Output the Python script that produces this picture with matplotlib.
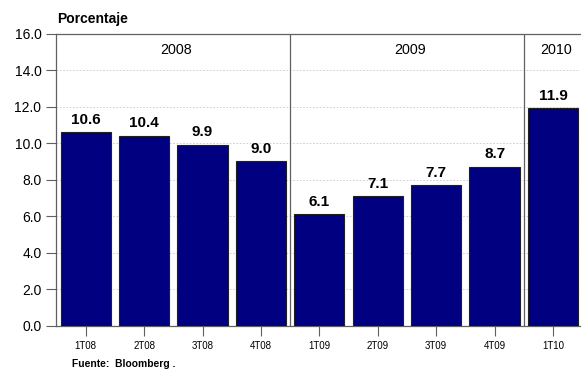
import matplotlib.pyplot as plt

plt.rcParams['font.family'] = ['Liberation Sans', 'DejaVu Sans']

quarters = ['1T08', '2T08', '3T08', '4T08', '1T09', '2T09', '3T09', '4T09', '1T10']
values = [10.6, 10.4, 9.9, 9.0, 6.1, 7.1, 7.7, 8.7, 11.9]
years = ['2008', '2009', '2010']
year_spans = [(0, 3), (4, 7), (8, 8)]

fig = plt.figure(figsize=(5.81, 3.71), dpi=100)
ax = fig.add_axes([0.0964, 0.1213, 0.9016, 0.7884])

x = list(range(len(quarters)))
ax.bar(x, values, width=0.86, color='#000080', edgecolor='#202020', linewidth=0.8, zorder=3)

for xi, v in zip(x, values):
    ax.annotate(f'{v:.1f}', (xi, v), xytext=(0, 4), textcoords='offset points',
                ha='center', va='bottom', fontsize=11, fontweight='bold')

# separators between years
for lo, hi in year_spans[:-1]:
    ax.axvline(hi + 0.5, color='#606060', linewidth=0.9, zorder=4)

for name, (lo, hi) in zip(years, year_spans):
    ax.text((lo + hi) / 2 + 0.05, 15.5, name, ha='center', va='top', fontsize=10.3)

ax.set_xlim(-0.51, 8.46)
ax.set_ylim(0, 16)
ax.set_yticks([i * 2.0 for i in range(9)])
ax.set_yticklabels([f'{i * 2.0:.1f}' for i in range(9)], fontsize=10)
ax.set_xticks(x)
ax.set_xticklabels(quarters, fontsize=7)
ax.tick_params(axis='both', length=7, width=0.8, color='#606060', direction='out')
ax.tick_params(axis='x', pad=4)
ax.grid(axis='y', linestyle=(0, (2, 2)), color='#c8c8c8', linewidth=0.6, zorder=0)

for side in ['left', 'top', 'bottom']:
    ax.spines[side].set_color('#606060')
    ax.spines[side].set_linewidth(0.9)
ax.spines['right'].set_visible(False)

fig.text(0.099, 0.95, 'Porcentaje', fontsize=10, fontweight='bold', va='center')
fig.text(0.124, 0.02, 'Fuente:  Bloomberg .', fontsize=7.4, fontweight='bold', va='center')

fig.savefig('out.png', dpi=100)
